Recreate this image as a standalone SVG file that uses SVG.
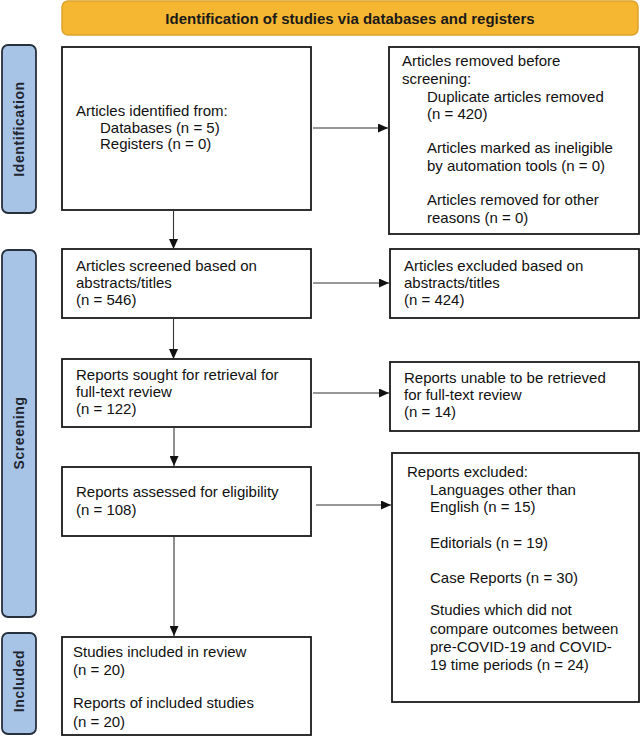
<svg xmlns="http://www.w3.org/2000/svg" width="642" height="736" viewBox="0 0 642 736">
<defs>
<style>
.box{fill:#fff;stroke:#1a1a1a;stroke-width:1.8}
.side{fill:#a7c3e5;stroke:#27303d;stroke-width:1.8}
.banner{fill:#f5b732;stroke:#dca22c;stroke-width:1.5}
.t{font-family:"Liberation Sans",Arial,sans-serif;font-size:15px;fill:#111}
.b{font-family:"Liberation Sans",Arial,sans-serif;font-size:15px;font-weight:bold;fill:#1a1a1a}
.s{font-family:"Liberation Sans",Arial,sans-serif;font-size:14px;font-weight:bold;fill:#1f2630;letter-spacing:0.6px}
.c{stroke:#333;stroke-width:1.1;fill:none;marker-end:url(#ah)}
</style>
<marker id="ah" markerUnits="userSpaceOnUse" markerWidth="10" markerHeight="9" refX="10" refY="4.5" orient="auto">
<path d="M0,0 L10,4.5 L0,9 z" fill="#111"/>
</marker>
</defs>
<rect width="642" height="736" fill="#fff"/>

<g id="banner">
<rect class="banner" x="62" y="1" width="576" height="34" rx="6"/>
<text class="b" x="350" y="24" text-anchor="middle">Identification of studies via databases and registers</text>
</g>

<g id="side-identification">
<rect class="side" x="2" y="45" width="34" height="168" rx="6"/>
<text class="s" transform="translate(24,129) rotate(-90)" text-anchor="middle">Identification</text>
</g>
<g id="side-screening">
<rect class="side" x="2" y="250" width="34" height="367" rx="6"/>
<text class="s" transform="translate(24,433) rotate(-90)" text-anchor="middle">Screening</text>
</g>
<g id="side-included">
<rect class="side" x="2" y="633" width="34" height="101" rx="6"/>
<text class="s" transform="translate(24,681) rotate(-90)" text-anchor="middle">Included</text>
</g>

<g id="identified">
<rect class="box" x="62" y="47" width="249" height="163"/>
<text class="t" x="76" y="116">Articles identified from:</text>
<text class="t" x="100" y="133">Databases (n = 5)</text>
<text class="t" x="100" y="149">Registers (n = 0)</text>
</g>

<g id="removed">
<rect class="box" x="389" y="47" width="250" height="187"/>
<text class="t" x="402" y="66">Articles removed before</text>
<text class="t" x="402" y="84">screening:</text>
<text class="t" x="427" y="102">Duplicate articles removed</text>
<text class="t" x="427" y="119">(n = 420)</text>
<text class="t" x="427" y="153">Articles marked as ineligible</text>
<text class="t" x="427" y="171">by automation tools (n = 0)</text>
<text class="t" x="427" y="205">Articles removed for other</text>
<text class="t" x="427" y="223">reasons (n = 0)</text>
</g>

<g id="screened">
<rect class="box" x="62" y="249" width="249" height="69"/>
<text class="t" x="76" y="271">Articles screened based on</text>
<text class="t" x="76" y="288">abstracts/titles</text>
<text class="t" x="76" y="305">(n = 546)</text>
</g>

<g id="excluded-abstracts">
<rect class="box" x="390" y="249" width="249" height="69"/>
<text class="t" x="404" y="271">Articles excluded based on</text>
<text class="t" x="404" y="288">abstracts/titles</text>
<text class="t" x="404" y="305">(n = 424)</text>
</g>

<g id="sought">
<rect class="box" x="62" y="359" width="249" height="68"/>
<text class="t" x="76" y="380">Reports sought for retrieval for</text>
<text class="t" x="76" y="397">full-text review</text>
<text class="t" x="76" y="414">(n = 122)</text>
</g>

<g id="not-retrieved">
<rect class="box" x="390" y="362" width="249" height="69"/>
<text class="t" x="404" y="383">Reports unable to be retrieved</text>
<text class="t" x="404" y="400">for full-text review</text>
<text class="t" x="404" y="417">(n = 14)</text>
</g>

<g id="assessed">
<rect class="box" x="62" y="467" width="249" height="69"/>
<text class="t" x="76" y="497">Reports assessed for eligibility</text>
<text class="t" x="76" y="515">(n = 108)</text>
</g>

<g id="reports-excluded">
<rect class="box" x="392" y="453" width="247" height="249"/>
<text class="t" x="407" y="477">Reports excluded:</text>
<text class="t" x="430" y="495">Languages other than</text>
<text class="t" x="430" y="512">English (n = 15)</text>
<text class="t" x="430" y="548">Editorials (n = 19)</text>
<text class="t" x="430" y="583">Case Reports (n = 30)</text>
<text class="t" x="430" y="615">Studies which did not</text>
<text class="t" x="430" y="634">compare outcomes between</text>
<text class="t" x="430" y="652">pre-COVID-19 and COVID-</text>
<text class="t" x="430" y="670">19 time periods (n = 24)</text>
</g>

<g id="included">
<rect class="box" x="62" y="637" width="249" height="98"/>
<text class="t" x="73" y="657">Studies included in review</text>
<text class="t" x="73" y="675">(n = 20)</text>
<text class="t" x="73" y="708">Reports of included studies</text>
<text class="t" x="73" y="727">(n = 20)</text>
</g>

<g id="connectors">
<line class="c" x1="173.5" y1="210" x2="173.5" y2="249"/>
<line class="c" x1="313" y1="128" x2="388" y2="128"/>
<line class="c" x1="173.5" y1="318" x2="173.5" y2="359"/>
<line class="c" x1="313" y1="283" x2="389" y2="283"/>
<line class="c" x1="174" y1="427" x2="174" y2="466"/>
<line class="c" x1="313" y1="393" x2="389" y2="393"/>
<line class="c" x1="174" y1="536" x2="174" y2="636"/>
<line class="c" x1="316" y1="505" x2="391" y2="505"/>
</g>
</svg>
